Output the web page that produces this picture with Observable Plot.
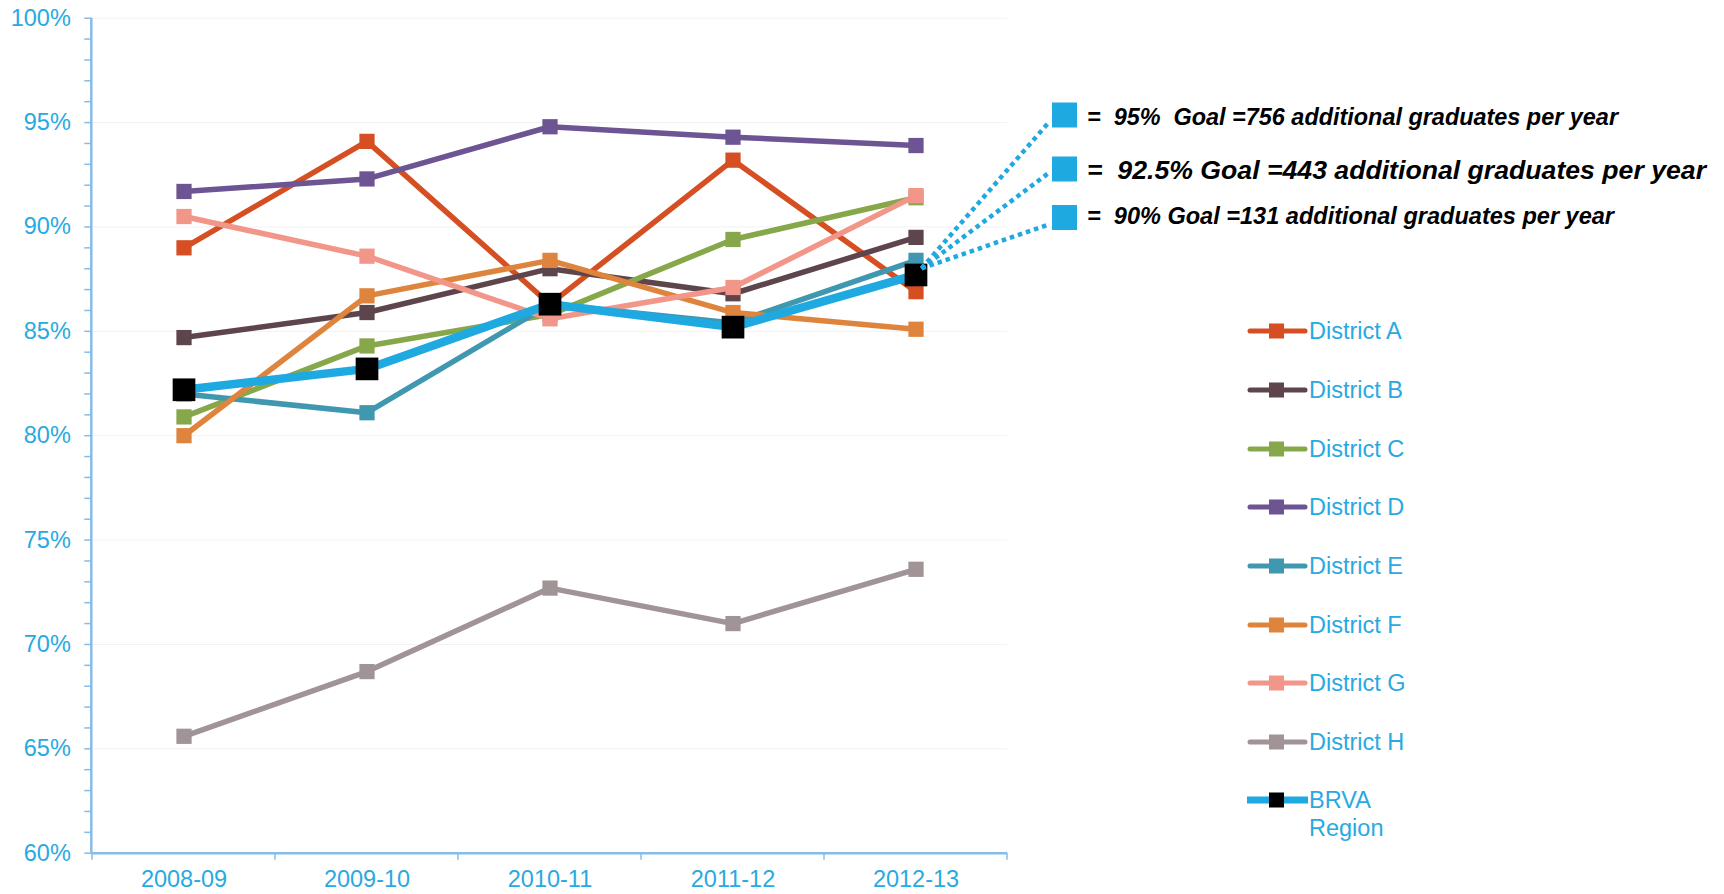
<!DOCTYPE html>
<html>
<head>
<meta charset="utf-8">
<script src="https://cdn.jsdelivr.net/npm/d3@7"></script>
<script src="https://cdn.jsdelivr.net/npm/@observablehq/plot@0.6"></script>
<style>
  html, body { margin: 0; padding: 0; background: #fff; overflow: hidden; }
  svg { display: block; }
</style>
</head>
<body>
<div id="chart"></div>
<script>
// ---- data ----
const years = ["2008-09", "2009-10", "2010-11", "2011-12", "2012-13"];
const seriesNames = ["District A", "District B", "District C", "District D", "District E", "District F", "District G", "District H", "BRVA Region"];
const districtA = [89.0, 94.1, 86.3, 93.2, 86.9];
const districtB = [84.7, 85.9, 88.0, 86.8, 89.5];
const districtC = [80.9, 84.3, 85.8, 89.4, 91.4];
const districtD = [91.7, 92.3, 94.8, 94.3, 93.9];
const districtE = [82.0, 81.1, 86.3, 85.4, 88.4];
const districtF = [80.0, 86.7, 88.4, 85.9, 85.1];
const districtG = [90.5, 88.6, 85.6, 87.1, 91.5];
const districtH = [65.6, 68.7, 72.7, 71.0, 73.6];
const brvaRegion = [82.2, 83.2, 86.3, 85.2, 87.7];
const yTicks = [60, 65, 70, 75, 80, 85, 90, 95, 100];
const goalLabels = [
  "=  95%  Goal =756 additional graduates per year",
  "=  92.5% Goal =443 additional graduates per year",
  "=  90% Goal =131 additional graduates per year"
];

const seriesValues = [districtA, districtB, districtC, districtD, districtE, districtF, districtG, districtH, brvaRegion];
const seriesColors = ["#D54F23", "#5E454B", "#86A74A", "#6C5592", "#3F98AF", "#DE843C", "#F2968A", "#A09496", "#1FA9E1"];

const data = [];
seriesNames.forEach((s, i) => years.forEach((y, j) => data.push({series: s, year: y, value: seriesValues[i][j]})));

// ---- layout ----
const W = 1724, H = 894;
const plotLeft = 91.3, plotRight = 1007, plotTop = 17.7, plotBottom = 852.7;
const axisColor = "#86BCE8";
const labelColor = "#29A9E1";
const font = "'Liberation Sans', Arial, sans-serif";

const marks = [
  Plot.gridY(yTicks.slice(1), {stroke: "#f2f2f2", strokeOpacity: 1}),
  Plot.axisY(d3.range(60, 101, 1), {tickSize: 7, text: null, stroke: axisColor, strokeWidth: 1.5, label: null}),
  Plot.axisY(yTicks, {tickSize: 0, tickPadding: 21, tickFormat: d => d + "%", color: labelColor, fontSize: 23.5, label: null}),
  Plot.axisX({tickSize: 0, tickPadding: 17, color: labelColor, fontSize: 23.5, label: null}),
  Plot.ruleY([60], {stroke: axisColor, strokeWidth: 2.5})
];

seriesNames.forEach((s, i) => {
  const d = data.filter(r => r.series === s);
  const region = i === seriesNames.length - 1;
  marks.push(Plot.line(d, {x: "year", y: "value", stroke: seriesColors[i], strokeWidth: region ? 8.5 : 5.5, strokeLinejoin: "round"}));
  marks.push(Plot.dot(d, {x: "year", y: "value", symbol: "square", r: region ? 12.8 : 8.6, fill: region ? "#000" : seriesColors[i], stroke: "none"}));
});

const plot = Plot.plot({
  width: W,
  height: H,
  marginLeft: plotLeft,
  marginRight: W - plotRight,
  marginTop: plotTop,
  marginBottom: H - plotBottom,
  style: {fontFamily: font, background: "#fff", overflow: "visible"},
  x: {type: "band", domain: years, padding: 0, axis: null},
  y: {domain: [60, 100], axis: null},
  marks
});
document.getElementById("chart").appendChild(plot);

// ---- annotations & legend drawn on the same SVG using the plot's scales ----
const svg = d3.select(plot);
const xs = plot.scale("x"), ys = plot.scale("y");
const bw = xs.bandwidth;
const edges = years.map(y => xs.apply(y)).concat([xs.apply(years[years.length - 1]) + bw]);

// y axis line
svg.append("line")
  .attr("x1", plotLeft).attr("x2", plotLeft)
  .attr("y1", ys.apply(100)).attr("y2", ys.apply(60))
  .attr("stroke", axisColor).attr("stroke-width", 2.5);
// x category boundary ticks
svg.append("g").selectAll("line").data(edges).join("line")
  .attr("x1", d => d).attr("x2", d => d)
  .attr("y1", ys.apply(60)).attr("y2", ys.apply(60) + 7)
  .attr("stroke", axisColor).attr("stroke-width", 1.5);

// goal callouts
const lastX = xs.apply(years[years.length - 1]) + bw / 2;
const lastY = ys.apply(brvaRegion[brvaRegion.length - 1]);
const boxCenters = [115, 169, 217.5];
const lineEnds = [121, 172, 224];
const textBaselines = [125, 178.5, 224];
const textSizes = [23, 25, 23];
const textLengths = [531, 619, 527];
const g = svg.append("g").attr("text-anchor", "start");
boxCenters.forEach((cy, i) => {
  g.append("line")
    .attr("x1", lastX + 6).attr("y1", lastY - 6)
    .attr("x2", 1050).attr("y2", lineEnds[i])
    .attr("stroke", "#1FA9E1").attr("stroke-width", 4.5)
    .attr("stroke-dasharray", "4.5,4");
  g.append("rect")
    .attr("x", 1052).attr("y", cy - 12.5)
    .attr("width", 25).attr("height", 25)
    .attr("fill", "#1FA9E1");
  g.append("text")
    .attr("x", 1087).attr("y", textBaselines[i])
    .attr("text-anchor", "start")
    .attr("font-family", font).attr("font-size", textSizes[i])
    .attr("font-weight", "bold").attr("font-style", "italic")
    .attr("fill", "#000")
    .attr("textLength", textLengths[i]).attr("lengthAdjust", "spacingAndGlyphs")
    .style("white-space", "pre")
    .text(goalLabels[i]);
});

// legend
const legendRows = [331, 390, 449, 507, 566, 625, 683, 742, 800];
const lg = svg.append("g").attr("text-anchor", "start");
seriesNames.forEach((s, i) => {
  const cy = legendRows[i];
  const region = i === seriesNames.length - 1;
  lg.append("line")
    .attr("x1", region ? 1247 : 1250).attr("x2", region ? 1308 : 1305)
    .attr("y1", cy).attr("y2", cy)
    .attr("stroke", seriesColors[i]).attr("stroke-width", region ? 7 : 5)
    .attr("stroke-linecap", region ? "butt" : "round");
  lg.append("rect")
    .attr("x", 1276.5 - 7.5).attr("y", cy - 7.5)
    .attr("width", 15).attr("height", 15)
    .attr("fill", region ? "#000" : seriesColors[i]);
  const t = lg.append("text")
    .attr("x", 1309).attr("y", cy).attr("dy", "0.35em")
    .attr("text-anchor", "start")
    .attr("font-family", font).attr("font-size", 23.5)
    .attr("fill", labelColor);
  if (region) {
    t.text("BRVA");
    lg.append("text")
      .attr("x", 1309).attr("y", cy + 28).attr("dy", "0.35em")
      .attr("text-anchor", "start")
      .attr("font-family", font).attr("font-size", 23.5)
      .attr("fill", labelColor).text("Region");
  } else {
    t.text(s);
  }
});
</script>
</body>
</html>
